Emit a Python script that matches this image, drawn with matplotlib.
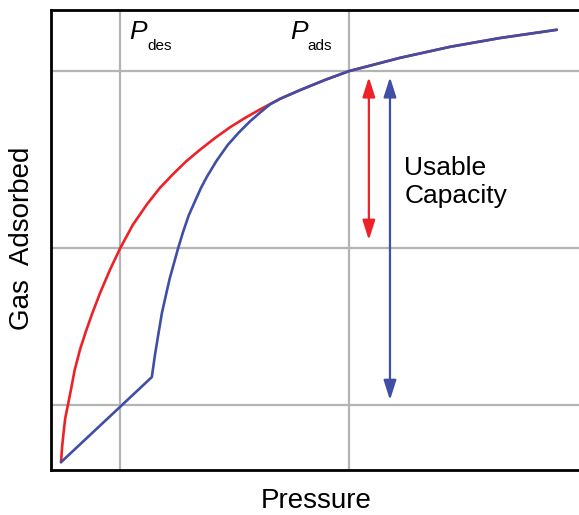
import matplotlib
matplotlib.use("Agg")
import matplotlib.pyplot as plt

plt.rcParams['font.family'] = ['Liberation Sans', 'DejaVu Sans']

# Isotherms (arbitrary units, axes span 0..10 both ways)
red_p = [0.19, 0.21, 0.24, 0.27, 0.32, 0.38, 0.45, 0.55, 0.66, 0.78, 0.93, 1.12, 1.31,
         1.55, 1.82, 2.06, 2.31, 2.56, 2.82, 3.11, 3.39, 3.67, 3.96, 4.34, 4.72, 5.19,
         5.64, 6.61, 7.56, 8.50, 9.58]
red_q = [0.17, 0.50, 0.83, 1.13, 1.41, 1.76, 2.18, 2.62, 3.01, 3.40, 3.85, 4.36, 4.82,
         5.33, 5.78, 6.13, 6.43, 6.71, 6.96, 7.22, 7.45, 7.65, 7.84, 8.07, 8.26, 8.48,
         8.67, 8.96, 9.20, 9.39, 9.57]

blue_p = [0.19, 1.91, 1.97, 2.03, 2.10, 2.18, 2.25, 2.33, 2.41, 2.50, 2.61, 2.73, 2.84,
          2.95, 3.14, 3.35, 3.56, 3.77, 3.96, 4.15, 4.34, 4.72, 5.19, 5.64, 6.61, 7.56,
          8.50, 9.58]
blue_q = [0.17, 2.02, 2.51, 2.93, 3.41, 3.82, 4.17, 4.50, 4.83, 5.17, 5.54, 5.85, 6.13,
          6.37, 6.73, 7.07, 7.34, 7.58, 7.77, 7.95, 8.07, 8.26, 8.48, 8.67, 8.96, 9.20,
          9.39, 9.57]

grid_p = [1.31, 5.64]   # P_des, P_ads
grid_q = [1.41, 4.83, 8.67]

# usable capacity arrows: (pressure, low, high)
red_arrow = (6.02, 5.00, 8.54)
blue_arrow = (6.42, 1.52, 8.54)

RED = "#ec2227"
BLUE = "#3f4fa6"
GRID = "#b4b4b4"

fig = plt.figure(figsize=(5.79, 5.15), dpi=100)
ax = fig.add_axes([51 / 579, 1 - 470 / 515, 1 - 51 / 579, 460 / 515])
ax.set_xlim(0, 10)
ax.set_ylim(0, 10)

for gp in grid_p:
    ax.axvline(gp, color=GRID, lw=1.6, zorder=1)
for gq in grid_q:
    ax.axhline(gq, color=GRID, lw=1.6, zorder=1)

ax.plot(red_p, red_q, color=RED, lw=1.9, zorder=3, solid_capstyle="round")
ax.plot(blue_p, blue_q, color=BLUE, lw=1.9, zorder=4, solid_capstyle="round")

for (xa, lo, hi), col in [(red_arrow, RED), (blue_arrow, BLUE)]:
    ax.annotate("", xy=(xa, hi), xytext=(xa, lo),
                arrowprops=dict(arrowstyle="<|-|>,head_length=1.0,head_width=0.32",
                                mutation_scale=12, color=col, lw=1.6,
                                shrinkA=0, shrinkB=0), zorder=5)

ax.text(6.69, 6.26, "Usable\nCapacity", fontsize=19, va="center", ha="left",
        linespacing=1.25)

# P_des / P_ads labels
ax.text(1.48, 9.37, "P", fontsize=19, style="italic", va="baseline")
ax.text(1.82, 9.13, "des", fontsize=11, va="baseline")
ax.text(4.53, 9.37, "P", fontsize=19, style="italic", va="baseline")
ax.text(4.86, 9.13, "ads", fontsize=11, va="baseline")

ax.set_xticks([])
ax.set_yticks([])
for side in ["left", "bottom", "top"]:
    ax.spines[side].set_linewidth(2.0)
    ax.spines[side].set_color("black")
ax.spines["right"].set_visible(False)

fig.text(316 / 579, 1 - 501 / 515, "Pressure", fontsize=20, ha="center", va="center")
fig.text(22 / 579, 1 - 238 / 515, "Gas  Adsorbed", fontsize=20, ha="center", va="center",
         rotation=90)

fig.savefig("out.png", dpi=100)
